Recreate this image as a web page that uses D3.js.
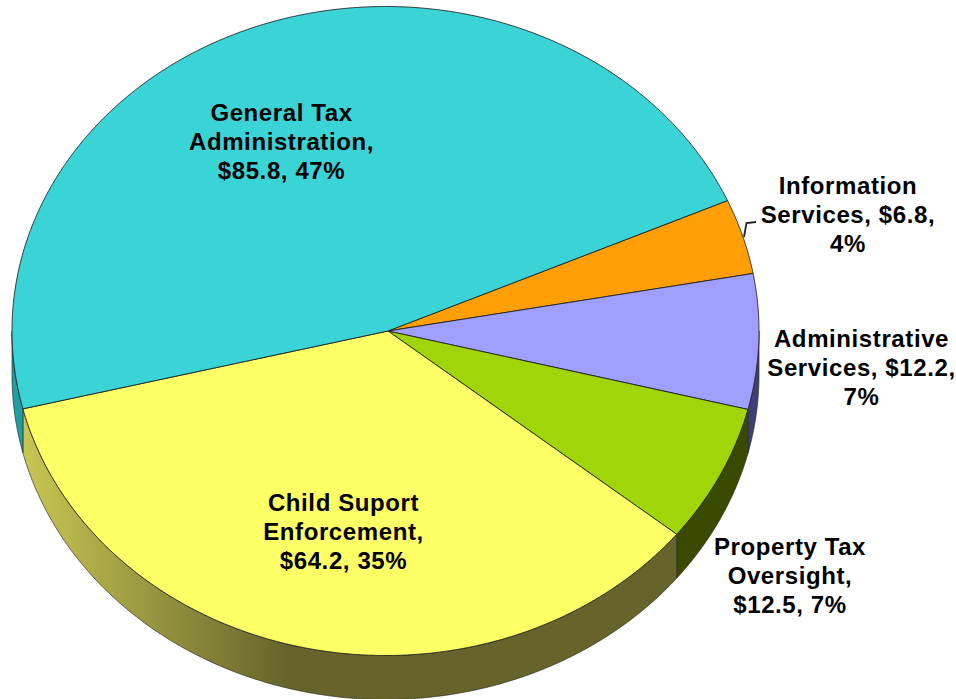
<!DOCTYPE html>
<html>
<head>
<meta charset="utf-8">
<script src="https://cdn.jsdelivr.net/npm/d3@7"></script>
<style>
html,body{margin:0;padding:0;background:#fff;overflow:hidden}
svg{display:block}
text{font-family:"Liberation Sans",Arial,sans-serif;font-weight:bold;font-size:24px;letter-spacing:0.6px;fill:#000;text-anchor:middle}
</style>
</head>
<body>
<svg id="c" width="956" height="699"></svg>
<script>
const categories = ["Information Services","Administrative Services","Property Tax Oversight","Child Suport Enforcement","General Tax Administration"];
const values = [6.8,12.2,12.5,64.2,85.8];
const percents = [4,7,7,35,47];
const topColors = ["#ff9f05","#9f9fff","#a0d508","#ffff66","#3ad3d6"];
const wallColors = ["#7f5000","#3f3f78","#3a4a00","url(#yellowWall)","#1f9ea6"];
const labelLines = [
  ["Information","Services, $6.8,","4%"],
  ["Administrative","Services, $12.2,","7%"],
  ["Property Tax","Oversight,","$12.5, 7%"],
  ["Child Suport","Enforcement,","$64.2, 35%"],
  ["General Tax","Administration,","$85.8, 47%"]
];
const labelCentres = [[848,194],[861.5,347],[790,555],[343.5,511],[281.5,120.5]];

const cx=385.5,cy=331,rx=373.5,ry=324.5,depth=44,apexX=388,apexY=331;
const svg=d3.select("#c");
const defs=svg.append("defs");
const grad=defs.append("linearGradient").attr("id","yellowWall")
  .attr("gradientUnits","userSpaceOnUse").attr("x1",22).attr("x2",290).attr("y1",0).attr("y2",0);
grad.append("stop").attr("offset",0).attr("stop-color","#c9c653");
grad.append("stop").attr("offset",0.5).attr("stop-color","#96943f");
grad.append("stop").attr("offset",1).attr("stop-color","#66632b");

const start=66.3*Math.PI/180;
const pie=d3.pie().sort(null).startAngle(start).endAngle(start+2*Math.PI);
const arcs=pie(values);
const px=a=>cx+rx*Math.sin(a), py=a=>cy-ry*Math.cos(a);
const sweep=(a0,a1)=>d3.range(a0,a1,0.005).concat([a1]);

// side walls: only the front half of the ellipse is visible
const wall=d3.area().x(px).y0(py).y1(a=>py(a)+depth);
const wallG=svg.append("g");
arcs.forEach((d,i)=>{
  const a0=Math.max(d.startAngle,Math.PI/2), a1=Math.min(d.endAngle,3*Math.PI/2);
  if(a1<=a0) return;
  wallG.append("path").attr("d",wall(sweep(a0,a1))).attr("fill",wallColors[i])
    .attr("stroke","#2a2a1a").attr("stroke-width",0.8).attr("stroke-opacity",0.85);
});

// top face: wedges from the apex to the elliptical rim
const rimLine=d3.line();
const faceG=svg.append("g");
faceG.selectAll("path").data(arcs).join("path")
  .attr("d",d=>rimLine([[apexX,apexY]].concat(sweep(d.startAngle,d.endAngle).map(a=>[px(a),py(a)])))+"Z")
  .attr("fill",(d,i)=>topColors[i])
  .attr("stroke","#1c1c1c").attr("stroke-width",1).attr("stroke-opacity",0.85)
  .attr("stroke-linejoin","round");

// leader for the smallest slice
svg.append("path").attr("d",d3.line()([[744,237],[746.5,223],[756,222]]))
  .attr("fill","none").attr("stroke","#222").attr("stroke-width",1.8);

// labels
const lh=29;
const lab=svg.append("g");
labelLines.forEach((lines,i)=>{
  const t=lab.append("text").attr("x",labelCentres[i][0]).attr("y",labelCentres[i][1]);
  lines.forEach((s,j)=>t.append("tspan").attr("x",labelCentres[i][0]).attr("dy",j?lh:0).text(s));
});
</script>
</body>
</html>
